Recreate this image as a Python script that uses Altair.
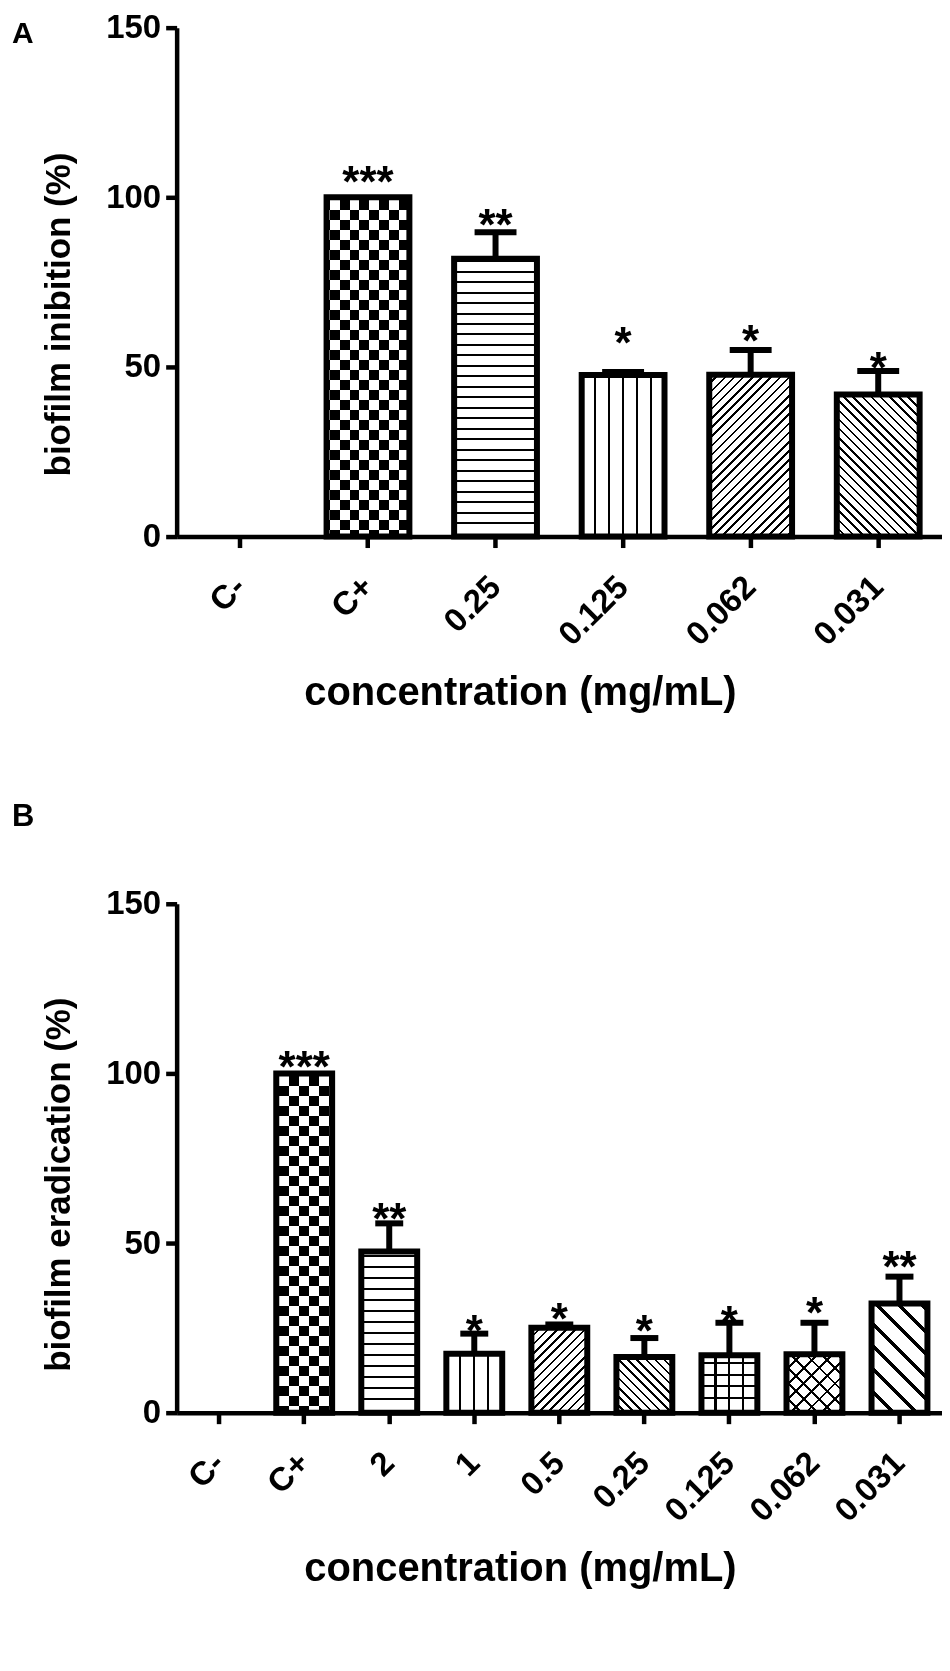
import math
import altair as alt
import pandas as pd

# ---------------- data ----------------
cats_a = ["C-", "C+", "0.25", "0.125", "0.062", "0.031"]
vals_a = [0, 100, 81.9, 47.6, 47.7, 41.9]
err_a = [None, None, 89.7, 48.5, 55.0, 48.8]
sig_a = ["", "***", "**", "*", "*", "*"]
sigpos_a = [None, 107.4, 94.7, 59.9, 60.7, 52.5]

cats_b = ["C-", "C+", "2", "1", "0.5", "0.25", "0.125", "0.062", "0.031"]
vals_b = [0, 100, 47.5, 17.4, 25.0, 16.4, 16.9, 17.2, 32.2]
err_b = [None, None, 55.8, 23.3, 26.0, 22.0, 26.5, 26.5, 40.1]
sig_b = ["", "***", "**", "*", "*", "*", "*", "*", "**"]
sigpos_b = [None, 104.8, 60.1, 27.1, 30.6, 27.1, 29.6, 32.2, 45.8]

y_ticks = [0, 50, 100, 150]
y_max = 150

# ---------------- styles ----------------
W, H = 767, 510
FONT = "Liberation Sans"
BW = 6  # bar border

# pattern styles per category
pat_a = {
    "C+": [("hc", 10), ("vc", 10)],
    "0.25": [("h", 10.5, 2.0)],
    "0.125": [("v", 5, 2.0)],
    "0.062": [("up", 6.5, 1.8)],
    "0.031": [("down", 6.5, 1.8)],
}
pat_b = {
    "C+": [("hc", 10), ("vc", 10)],
    "2": [("h", 11, 2.0)],
    "1": [("v", 3, 2.0)],
    "0.5": [("up", 6.5, 1.8)],
    "0.25": [("down", 6.5, 1.8)],
    "0.125": [("h", 11.7, 2.2), ("vt", 3, 2.2)],
    "0.062": [("up", 11, 2.0), ("downt", 11, 2.0)],
    "0.031": [("down", 16, 3.5)],
}


def make_stops(ivs, L, fg, bg):
    st = [(0.0, bg)]
    for a, b in sorted(ivs):
        a = max(0.0, min(L, a))
        b = max(0.0, min(L, b))
        if b <= a:
            continue
        st += [(a / L, bg), (a / L, fg), (b / L, fg), (b / L, bg)]
    st.append((1.0, bg))
    return [alt.GradientStop(offset=round(o, 5), color=c) for o, c in st]


def make_fill(spec, w, h):
    kind = spec[0]
    fg, bg = "black", "white"
    blend = None
    if kind in ("vt", "downt"):
        bg = "rgba(0,0,0,0)"
    if kind == "h":
        s, t = spec[1], spec[2]
        ivs = []
        k = 1
        while h - BW / 2 - k * s > 0:
            y = h - BW / 2 - k * s
            ivs.append((y - t / 2, y + t / 2))
            k += 1
        return alt.LinearGradient(gradient="linear", stops=make_stops(ivs, h, fg, bg),
                                  x1=0, y1=0, x2=0, y2=1), blend
    if kind in ("v", "vt"):
        n, t = spec[1], spec[2]
        ivs = [(k * w / (n + 1) - t / 2, k * w / (n + 1) + t / 2) for k in range(1, n + 1)]
        return alt.LinearGradient(gradient="linear", stops=make_stops(ivs, w, fg, bg),
                                  x1=0, y1=0, x2=1, y2=0), blend
    if kind in ("hc", "vc"):
        c = spec[1]
        L = h if kind == "hc" else w
        ivs = []
        p = BW / 2
        while p < L:
            ivs.append((p, p + c))
            p += 2 * c
        if kind == "hc":
            g = alt.LinearGradient(gradient="linear", stops=make_stops(ivs, L, fg, bg),
                                   x1=0, y1=0, x2=0, y2=1)
        else:
            g = alt.LinearGradient(gradient="linear", stops=make_stops(ivs, L, bg, fg),
                                   x1=0, y1=0, x2=1, y2=0)
            blend = "difference"
        return g, blend
    # diagonals
    s, t = spec[1], spec[2]
    r = h / w
    a = (1 + r) / (1 + r * r)
    L = w + h
    step = s * math.sqrt(2)
    th = t * math.sqrt(2)
    ivs = [(k * step - th / 2, k * step + th / 2) for k in range(int(L / step) + 2)]
    if kind == "up":
        x1, y1, x2, y2 = 0, 0, a, a * r
    else:
        x1, y1, x2, y2 = 0, 1, a, 1 - a * r
    return alt.LinearGradient(gradient="linear", stops=make_stops(ivs, L, fg, bg),
                              x1=x1, y1=y1, x2=round(x2, 5), y2=round(y2, 5)), blend


def panel(cats, vals, errs, sigs, sigpos, pats, barw, capw, ytitle, ytitle_y,
          letter, letter_y, letter_size):
    df = pd.DataFrame({"cat": cats, "val": vals, "err": errs, "sig": sigs, "sigpos": sigpos})
    xaxis = alt.Axis(
        title="concentration (mg/mL)", labelAngle=315, labelAlign="right",
        labelBaseline="middle", labelPadding=34, labelFont=FONT, labelFontSize=33,
        labelFontWeight="bold", labelColor="black", labelOverlap=False,
        tickSize=11, tickWidth=4.5, tickColor="black", domainColor="black",
        domainWidth=4.5, grid=False, titleFont=FONT, titleFontSize=40,
        titleFontWeight="bold", titleColor="black", titleX=344, titleY=168,
        titleBaseline="alphabetic", titleAlign="center")
    yaxis = alt.Axis(
        title=ytitle, values=y_ticks, labelFont=FONT, labelFontSize=33,
        labelFontWeight="bold", labelColor="black", labelPadding=5,
        tickSize=11, tickWidth=4.5, tickColor="black", domainColor="black",
        domainWidth=4.5, grid=False, titleFont=FONT, titleFontSize=35,
        titleFontWeight="bold", titleColor="black", titleAngle=270,
        titleX=-107, titleY=ytitle_y, titleBaseline="alphabetic", titleAlign="center")
    xs = alt.Scale(domain=cats, paddingInner=0, paddingOuter=0)
    ys = alt.Scale(domain=[0, y_max], nice=False, zero=True)

    def X():
        return alt.X("cat:N", sort=cats, scale=xs, axis=xaxis)

    def Y(f):
        return alt.Y(f"{f}:Q", scale=ys, axis=yaxis)

    base = alt.Chart(df)
    layers = []
    for c, v in zip(cats, vals):
        if v <= 0:
            continue
        h = v * H / y_max
        for spec in pats[c]:
            fill, blend = make_fill(spec, barw, h)
            kw = dict(width=barw, fill=fill, strokeWidth=0)
            if blend:
                kw["blend"] = blend
            layers.append(base.transform_filter(alt.datum.cat == c)
                          .mark_bar(**kw).encode(x=X(), y=Y("val")))
    layers.append(base.transform_filter("datum.val > 0")
                  .mark_bar(width=barw, fill="white", fillOpacity=0, stroke="black",
                            strokeWidth=BW, strokeJoin="miter")
                  .encode(x=X(), y=Y("val")))
    layers.append(base.transform_filter("datum.err != null")
                  .mark_rule(color="black", strokeWidth=6, strokeCap="butt")
                  .encode(x=X(), y=Y("val"), y2="err:Q"))
    layers.append(base.transform_filter("datum.err != null")
                  .mark_tick(color="black", orient="horizontal", size=capw,
                             thickness=6, opacity=1)
                  .encode(x=X(), y=Y("err")))
    layers.append(base.transform_filter("datum.sigpos != null")
                  .mark_text(font=FONT, fontSize=44, fontWeight="bold", color="black",
                             baseline="alphabetic", align="center", dy=25)
                  .encode(x=X(), y=Y("sigpos"), text="sig:N"))
    layers.append(alt.Chart(pd.DataFrame({"t": [letter]}))
                  .mark_text(font=FONT, fontSize=letter_size, fontWeight="bold",
                             color="black", align="left", baseline="alphabetic")
                  .encode(text="t:N", x=alt.value(-165), y=alt.value(letter_y)))
    return alt.layer(*layers).properties(width=W, height=H)


pA = panel(cats_a, vals_a, err_a, sig_a, sigpos_a, pat_a, 83, 42,
           "biofilm inibition (%)", 287, "A", 15, 30)
pB = panel(cats_b, vals_b, err_b, sig_b, sigpos_b, pat_b, 56, 28,
           "biofilm eradication (%)", 281, "B", -78, 31)

chart = (alt.vconcat(pA, pB, spacing=368, bounds="flush")
         .properties(padding={"left": 4, "top": 2, "right": 0, "bottom": 0},
                     background="white")
         .configure_view(stroke=None))

chart.save("out.html", embed_options={"renderer": "svg", "actions": False})
